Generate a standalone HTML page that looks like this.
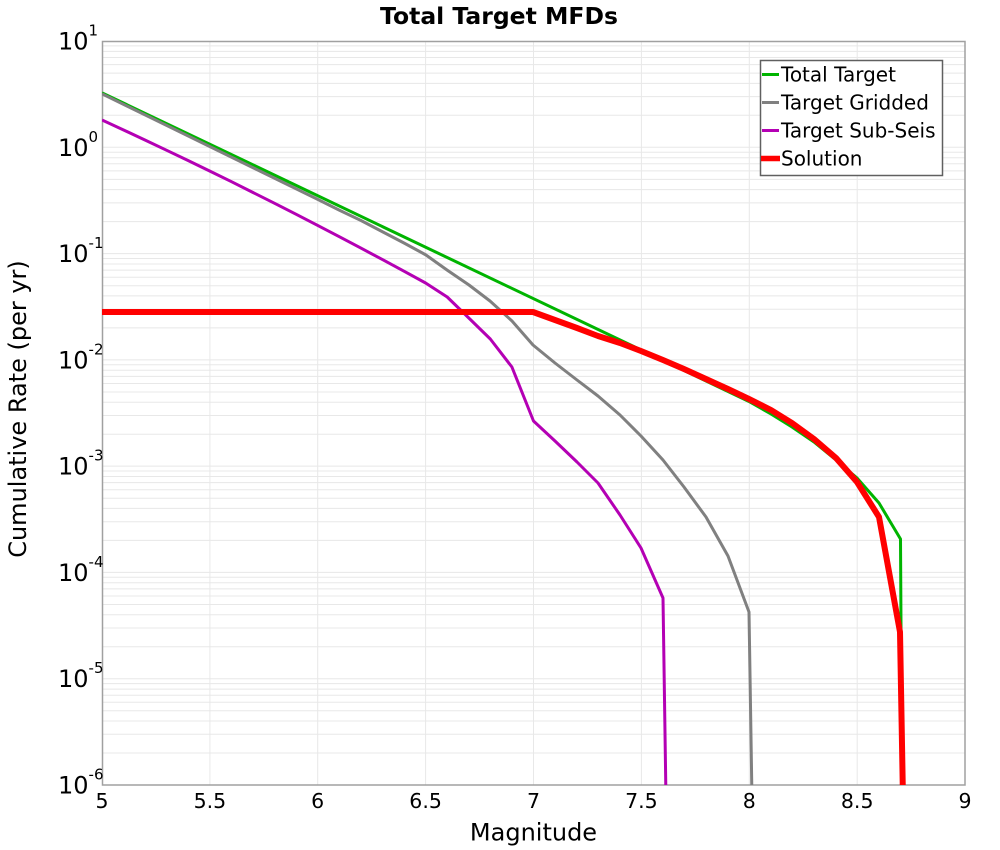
<!DOCTYPE html>
<html>
<head>
<meta charset="utf-8">
<style>
  html, body { margin: 0; padding: 0; background: #ffffff; }
  svg { display: block; }
  text { font-family: "DejaVu Sans", "Liberation Sans", sans-serif; fill: #000; }
</style>
</head>
<body>
<svg width="1000" height="850" viewBox="0 0 1000 850" xmlns="http://www.w3.org/2000/svg">
  <defs>
    <clipPath id="plot">
      <rect x="102" y="41" width="863" height="744"/>
    </clipPath>
  </defs>
  <rect x="0" y="0" width="1000" height="850" fill="#ffffff"/>

  <!-- Title -->
  <text x="499" y="24" text-anchor="middle" font-size="23.5" font-weight="bold">Total Target MFDs</text>

  <!-- Gridlines -->
  <g stroke="#e8e8e8" stroke-width="1" fill="none">
    <path d="M209.9,41V785 M317.7,41V785 M425.6,41V785 M533.5,41V785 M641.4,41V785 M749.3,41V785 M857.2,41V785"/>
    <path d="
      M102,45.9H965 M102,51.4H965 M102,57.5H965 M102,64.6H965 M102,73.1H965 M102,83.4H965 M102,96.6H965 M102,115.3H965 M102,147.3H965
      M102,152.2H965 M102,157.7H965 M102,163.8H965 M102,170.9H965 M102,179.4H965 M102,189.6H965 M102,202.9H965 M102,221.6H965 M102,253.6H965
      M102,258.5H965 M102,264.0H965 M102,270.1H965 M102,277.2H965 M102,285.7H965 M102,295.9H965 M102,309.2H965 M102,327.9H965 M102,359.9H965
      M102,364.8H965 M102,370.3H965 M102,376.4H965 M102,383.5H965 M102,392.0H965 M102,402.2H965 M102,415.5H965 M102,434.2H965 M102,466.1H965
      M102,471.0H965 M102,476.5H965 M102,482.6H965 M102,489.7H965 M102,498.2H965 M102,508.4H965 M102,521.7H965 M102,540.4H965 M102,572.4H965
      M102,577.3H965 M102,582.8H965 M102,588.9H965 M102,596.0H965 M102,604.5H965 M102,614.7H965 M102,628.0H965 M102,646.7H965 M102,678.7H965
      M102,683.6H965 M102,689.1H965 M102,695.2H965 M102,702.3H965 M102,710.8H965 M102,721.0H965 M102,734.3H965 M102,753.0H965"/>
  </g>

  <!-- Plot border -->
  <rect x="102.5" y="41.5" width="862.5" height="743.5" fill="none" stroke="#a0a0a0" stroke-width="1.5"/>

  <!-- Series -->
  <g clip-path="url(#plot)" fill="none" stroke-linejoin="round">
    <path stroke="#00b400" stroke-width="3"
      d="M102,92.8 L749,401.5 L771,414 L792,427 L814,442 L836,460 L857,478 L879,503 L900.5,539 L902,800"/>
    <path stroke="#808080" stroke-width="3"
      d="M102,93.8 L318,199.5 L339,210 L361,220.5 L382,231.5 L404,243 L426,255 L447,270 L469,285 L490,301 L512,321 L533,345 L555,363 L577,380 L598,396 L620,415 L641,436 L663,460 L684,487 L706,517 L728,556 L749,612 L752,800"/>
    <path stroke="#b400b4" stroke-width="3"
      d="M102,120 L123.6,130 L145.2,140.1 L166.7,150.3 L188.3,160.6 L209.9,171.1 L231.5,181.7 L253,192.5 L274.6,203.3 L296.2,214.3 L317.7,225.4 L339.3,236.7 L360.9,248.1 L382.5,259.6 L404,271.2 L425.6,283 L447.2,297 L468.8,318 L490.3,339 L511.9,367 L533.5,421 L555,441 L577,462 L598,483 L620,515 L641,548 L663,598 L666,800"/>
    <path stroke="#ff0000" stroke-width="6"
      d="M102,312 L533,312 L555,320 L577,328 L598,336 L620,343 L641,351 L663,360 L684,369 L706,379 L728,389 L749,399 L771,410 L792,423 L814,439 L836,458 L857,482 L879,517 L900,632 L903,800"/>
  </g>

  <!-- Y tick labels -->
  <g font-size="24">
    <text x="58" y="49.5">10<tspan font-size="15" dy="-14">1</tspan></text>
    <text x="58" y="155.8">10<tspan font-size="15" dy="-14">0</tspan></text>
    <text x="58" y="262.1">10<tspan font-size="15" dy="-14">-1</tspan></text>
    <text x="58" y="368.4">10<tspan font-size="15" dy="-14">-2</tspan></text>
    <text x="58" y="474.6">10<tspan font-size="15" dy="-14">-3</tspan></text>
    <text x="58" y="580.9">10<tspan font-size="15" dy="-14">-4</tspan></text>
    <text x="58" y="687.2">10<tspan font-size="15" dy="-14">-5</tspan></text>
    <text x="58" y="793.5">10<tspan font-size="15" dy="-14">-6</tspan></text>
  </g>

  <!-- X tick labels -->
  <g font-size="20.5" text-anchor="middle">
    <text x="102" y="808">5</text>
    <text x="209.9" y="808">5.5</text>
    <text x="317.7" y="808">6</text>
    <text x="425.6" y="808">6.5</text>
    <text x="533.5" y="808">7</text>
    <text x="641.4" y="808">7.5</text>
    <text x="749.3" y="808">8</text>
    <text x="857.2" y="808">8.5</text>
    <text x="965" y="808">9</text>
  </g>

  <!-- Axis titles -->
  <text x="533.5" y="840.5" font-size="24" text-anchor="middle">Magnitude</text>
  <text transform="translate(26,409) rotate(-90)" font-size="24" text-anchor="middle">Cumulative Rate (per yr)</text>

  <!-- Legend -->
  <rect x="760.5" y="60.5" width="182" height="115" fill="#ffffff" stroke="#606060" stroke-width="1.5"/>
  <g stroke-width="3">
    <line x1="762" y1="74.5" x2="779" y2="74.5" stroke="#00b400"/>
    <line x1="762" y1="102.5" x2="779" y2="102.5" stroke="#808080"/>
    <line x1="762" y1="130.5" x2="779" y2="130.5" stroke="#b400b4"/>
    <line x1="761" y1="158.5" x2="780" y2="158.5" stroke="#ff0000" stroke-width="5.5"/>
  </g>
  <g font-size="20">
    <text x="781" y="81.5">Total Target</text>
    <text x="781" y="109.5">Target Gridded</text>
    <text x="781" y="137.5">Target Sub-Seis</text>
    <text x="781" y="165.5">Solution</text>
  </g>
</svg>
</body>
</html>
